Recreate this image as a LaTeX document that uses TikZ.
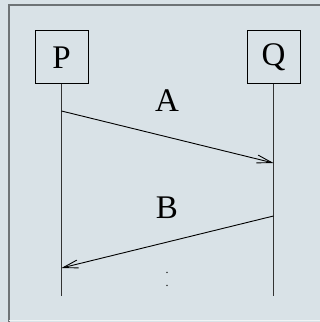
\documentclass[tikz,border=0pt]{standalone}
\usepackage{fontspec}
\setmainfont{Liberation Serif}
\usepackage{xcolor}
\usetikzlibrary{positioning, arrows.meta}

\definecolor{panelbg}{HTML}{D9E2E7}
\definecolor{panelrim}{HTML}{6E7376}

\begin{document}
\begin{tikzpicture}[
      x=1pt, y=1pt,
      proc/.style={draw, line width=1pt, minimum size=53pt, inner sep=0pt, font=\fontsize{33}{36}\selectfont},
      life/.style={line width=1.2pt, black!80},
      msg/.style={line width=0.9pt, -{Straight Barb[length=15pt, width=8pt]}},
      lbl/.style={font=\fontsize{33}{36}\selectfont}
    ]
    \useasboundingbox (0,0) rectangle (320,322);
    \fill[panelbg] (0,0) rectangle (320,322);
    \draw[line width=2pt, panelrim] (9,0) -- (9,317) -- (320,317);
    \draw[line width=1pt, white!60!panelbg] (9,1) -- (320,1);

    \node[proc] (p) at (61.5,264.5) {P};
    \node[proc] (q) at (273.5,264.5) {Q};

    % lifelines
    \coordinate (pend) at (61.5,26);
    \coordinate (qend) at (273.5,26);
    \draw[life] (p) -- (pend);
    \draw[life] (q) -- (qend);

    % messages
    \coordinate (a0) at (61.5,211);
    \coordinate (a1) at (273.5,159);
    \coordinate (b0) at (273.5,106);
    \coordinate (b1) at (61.5,54);
    \draw[msg] (a0) -- (a1);
    \draw[msg] (b0) -- (b1);
    \node[lbl] (la) at (167,221) {A};
    \node[lbl] (lb) at (167,114) {B};

    \node[font=\fontsize{12}{13}\selectfont, align=center, inner sep=0pt] (more) at (167,43) {.\\.};
  \end{tikzpicture}
\end{document}
